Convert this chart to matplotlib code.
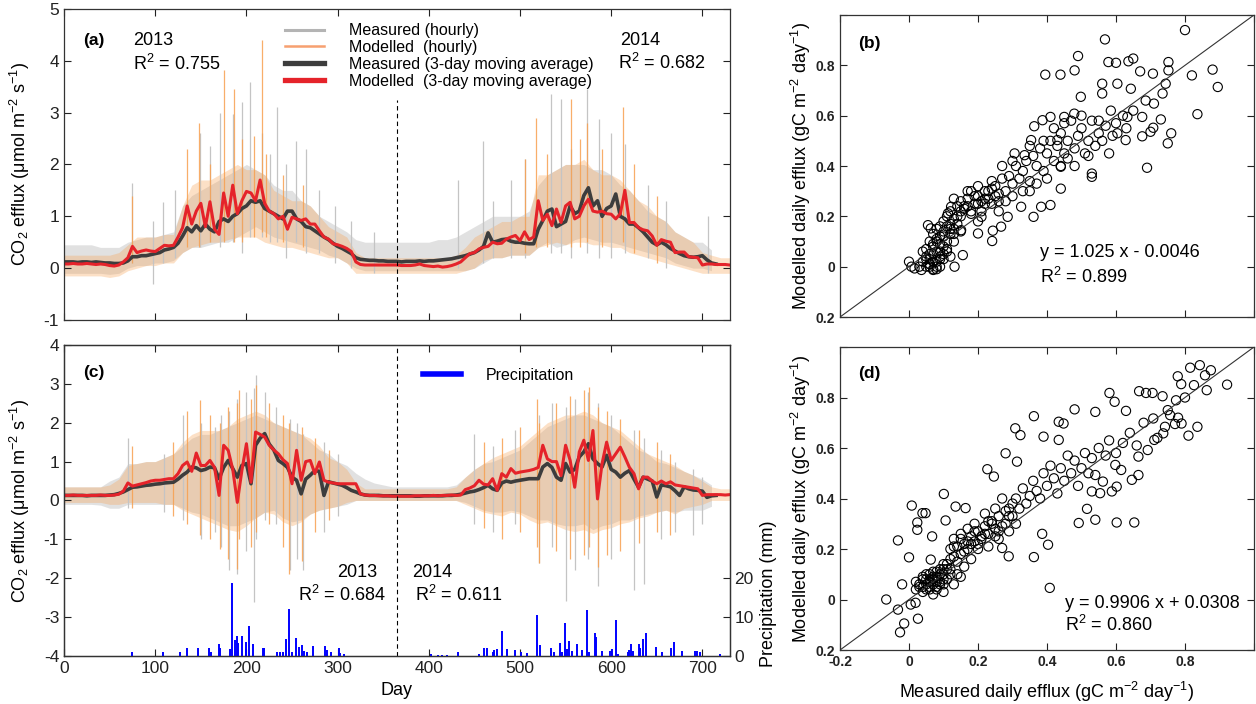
import numpy as np
import matplotlib
matplotlib.use("Agg")
import matplotlib.pyplot as plt
from matplotlib.lines import Line2D

plt.rcParams['font.family'] = ['Liberation Sans', 'DejaVu Sans']
plt.rcParams['mathtext.fontset'] = 'custom'
plt.rcParams['mathtext.rm'] = 'Liberation Sans'
plt.rcParams['mathtext.it'] = 'Liberation Sans:italic'
plt.rcParams['mathtext.bf'] = 'Liberation Sans:bold'
plt.rcParams['axes.unicode_minus'] = False

nan = np.nan

# ---------------- data ----------------
day5 = np.arange(0, 731, 5)     # 3-day moving averages, read every 5 days
day10 = np.arange(0, 731, 10)   # hourly envelope, read every 10 days

# panel (a) 3-day moving averages
ma_meas_a = [0.12,0.12,0.12,0.11,0.12,0.12,0.11,0.12,0.11,0.10,
             0.10,0.09,0.09,0.10,0.14,0.22,0.22,0.24,0.24,0.26,
             0.28,0.30,0.35,0.37,0.40,0.48,0.62,0.78,0.70,0.82,
             0.72,0.85,0.75,0.70,0.90,0.95,0.90,1.00,1.05,1.15,
             1.20,1.30,1.27,1.30,1.15,1.10,1.05,1.00,0.95,1.10,
             1.10,0.95,0.90,0.80,0.78,0.72,0.66,0.60,0.55,0.48,
             0.42,0.38,0.33,0.28,0.20,0.17,0.16,0.15,0.15,0.14,
             0.14,0.13,0.13,0.13,0.12,0.13,0.13,0.13,0.14,0.13,
             0.14,0.14,0.15,0.16,0.17,0.18,0.20,0.22,0.24,0.27,
             0.30,0.35,0.42,0.68,0.50,0.52,0.55,0.56,0.52,0.50,
             0.50,0.48,0.47,0.47,0.75,0.92,1.10,1.14,0.80,0.85,
             0.90,1.20,1.05,1.10,1.40,1.55,1.20,1.30,1.00,1.15,
             1.20,1.43,1.00,0.95,0.85,0.85,0.78,0.70,0.60,0.50,
             0.45,0.50,0.45,0.38,0.33,0.28,0.24,0.22,0.21,0.22,
             0.24,0.16,0.10,0.08,nan,nan,nan]
ma_mod_a = [0.08,0.08,0.09,0.08,0.08,0.09,0.08,0.07,0.08,0.07,
            0.05,0.04,0.06,0.12,0.20,0.42,0.30,0.33,0.35,0.33,
            0.32,0.38,0.44,0.43,0.44,0.60,0.78,1.20,0.85,1.10,
            1.25,0.80,1.28,0.75,0.65,1.45,1.00,1.60,1.05,1.30,
            1.48,1.45,1.30,1.70,1.25,1.10,1.05,0.95,1.00,0.75,
            0.98,0.95,0.92,0.95,0.85,0.85,0.72,0.60,0.56,0.47,
            0.45,0.42,0.38,0.32,0.12,0.07,0.06,0.06,0.06,0.06,
            0.06,0.06,0.06,0.06,0.05,0.05,0.05,0.06,0.08,0.05,
            0.04,0.03,0.04,0.02,0.03,0.05,0.08,0.12,0.20,0.28,
            0.30,0.37,0.40,0.42,0.50,0.47,0.48,0.56,0.60,0.63,
            0.53,0.70,0.55,0.60,1.30,0.92,1.04,0.82,1.14,0.88,
            1.20,1.27,0.95,1.00,1.20,1.33,1.10,1.08,1.10,1.05,
            1.04,0.95,1.05,1.50,0.88,0.88,0.78,0.74,0.72,0.62,
            0.44,0.55,0.52,0.50,0.30,0.31,0.31,0.22,0.21,0.20,
            0.06,0.08,0.08,0.07,0.07,0.07,0.06]

# panel (c) 3-day moving averages
ma_meas_c = [0.13,0.13,0.13,0.13,0.13,0.12,0.13,0.13,0.13,0.13,
             0.14,0.15,0.18,0.22,0.28,0.34,0.35,0.37,0.39,0.40,
             0.42,0.43,0.45,0.46,0.47,0.55,0.65,0.73,0.86,0.84,
             0.77,0.80,0.86,0.84,0.56,0.85,1.03,0.82,0.60,0.90,
             0.95,0.43,1.42,1.60,1.72,1.45,1.30,1.03,0.95,0.85,
             0.60,0.52,0.17,0.55,0.65,0.77,0.75,0.13,0.48,0.45,
             0.42,0.39,0.33,0.26,0.22,0.17,0.14,0.13,0.13,0.13,
             0.12,0.12,0.12,0.12,0.12,0.12,0.12,0.11,0.11,0.12,
             0.12,0.12,0.12,0.12,0.13,0.13,0.14,0.16,0.19,0.22,
             0.24,0.28,0.33,0.39,0.30,0.26,0.45,0.50,0.47,0.50,
             0.52,0.54,0.56,0.56,0.56,0.86,0.95,0.85,0.60,0.52,
             0.95,0.73,0.80,1.12,1.25,1.46,1.07,0.95,0.86,1.16,
             0.80,0.73,0.60,0.70,0.77,0.55,0.34,0.60,0.55,0.50,
             0.09,0.40,0.38,0.35,0.25,0.13,0.35,0.30,0.27,0.26,
             0.24,0.08,0.12,0.13,nan,nan,nan]
ma_mod_c = [0.13,0.13,0.14,0.13,0.13,0.13,0.13,0.13,0.14,0.13,
            0.13,0.14,0.16,0.24,0.45,0.37,0.40,0.43,0.46,0.50,
            0.52,0.52,0.54,0.56,0.56,0.69,0.90,0.99,0.75,1.22,
            0.90,0.90,1.03,0.85,0.13,1.42,1.29,0.80,-0.05,0.77,
            1.46,0.47,1.76,1.70,1.63,1.42,1.30,1.20,1.05,0.95,
            0.43,1.29,0.52,1.00,1.03,0.69,0.99,0.52,0.47,0.45,
            0.43,0.43,0.43,0.43,0.43,0.17,0.14,0.13,0.13,0.12,
            0.12,0.12,0.11,0.11,0.11,0.11,0.11,0.12,0.12,0.12,
            0.12,0.13,0.12,0.13,0.13,0.14,0.13,0.14,0.28,0.32,
            0.38,0.52,0.42,0.40,0.56,0.26,0.69,0.60,0.82,0.70,
            0.73,0.75,0.77,0.80,0.85,1.42,1.07,1.00,1.00,0.64,
            1.42,1.03,0.34,1.25,1.55,1.03,1.80,0.04,0.95,1.50,
            1.03,1.20,1.37,1.12,0.85,0.69,0.30,0.60,0.60,0.50,
            0.43,0.50,0.43,0.48,0.40,0.38,0.36,0.34,0.32,0.30,
            0.13,0.15,0.15,0.15,0.15,0.14,0.15]

# hourly envelopes (dense part of the hourly traces)
meas_hi_a = [0.45,0.45,0.45,0.45,0.40,0.40,0.40,0.50,0.55,0.60,
             0.60,0.65,0.70,1.20,1.40,1.50,1.60,1.70,1.80,1.90,
             2.00,1.90,1.80,1.60,1.50,1.50,1.30,1.20,1.00,0.90,
             0.80,0.70,0.55,0.50,0.50,0.50,0.50,0.50,0.50,0.50,
             0.50,0.55,0.55,0.60,0.70,0.80,0.90,1.00,1.00,1.00,
             1.00,1.10,1.60,1.80,1.90,2.00,2.00,2.00,1.90,1.90,
             1.80,1.60,1.50,1.30,1.10,1.00,0.90,0.70,0.60,0.50,
             0.50,0.35,nan,nan]
meas_lo_a = [-0.10,-0.10,-0.10,-0.10,-0.10,-0.12,-0.10,0.00,0.05,0.05,
             0.10,0.10,0.15,0.30,0.40,0.40,0.45,0.50,0.50,0.60,
             0.70,0.80,0.70,0.60,0.55,0.50,0.45,0.40,0.35,0.25,
             0.20,0.10,0.00,-0.05,-0.05,-0.05,-0.05,-0.05,-0.05,-0.05,
             -0.05,-0.05,-0.05,-0.05,-0.05,0.00,0.10,0.20,0.20,0.25,
             0.25,0.25,0.40,0.50,0.40,0.45,0.55,0.60,0.55,0.50,
             0.50,0.45,0.40,0.35,0.30,0.25,0.20,0.10,0.05,0.00,
             0.00,-0.05,nan,nan]
mod_hi_a = [0.25,0.25,0.25,0.25,0.25,0.25,0.30,0.45,0.60,0.60,
            0.60,0.65,0.65,1.20,1.60,1.70,1.70,1.80,1.90,2.00,
            1.90,1.90,1.80,1.50,1.40,1.30,1.30,1.20,1.00,0.80,
            0.70,0.60,0.30,0.20,0.20,0.20,0.20,0.20,0.20,0.20,
            0.20,0.20,0.20,0.25,0.40,0.60,0.70,0.80,0.90,0.90,
            1.00,1.00,1.80,1.80,1.90,2.00,2.00,2.10,1.90,1.80,
            1.80,1.70,1.50,1.30,1.20,1.00,0.90,0.70,0.60,0.50,
            0.30,0.25,0.20,0.20]
mod_lo_a = [-0.15,-0.15,-0.15,-0.15,-0.15,-0.18,-0.15,-0.05,0.00,0.05,
            0.05,0.10,0.10,0.30,0.40,0.45,0.50,0.50,0.55,0.60,
            0.60,0.60,0.50,0.45,0.40,0.40,0.35,0.30,0.25,0.20,
            0.20,0.10,-0.10,-0.10,-0.10,-0.10,-0.10,-0.10,-0.10,-0.10,
            -0.10,-0.10,-0.10,-0.10,-0.05,0.00,0.15,0.20,0.20,0.25,
            0.25,0.25,0.40,0.45,0.50,0.45,0.50,0.50,0.45,0.45,
            0.40,0.40,0.30,0.25,0.20,0.15,0.10,0.05,0.00,-0.05,
            -0.10,-0.10,-0.10,-0.10]

meas_hi_c = [0.35,0.35,0.35,0.35,0.35,0.50,0.60,0.95,0.95,1.00,
             1.00,1.10,1.20,1.40,1.60,1.70,1.70,1.80,1.90,2.00,
             2.10,2.20,2.10,2.00,1.90,1.80,1.70,1.50,1.30,1.20,
             1.00,0.90,0.70,0.55,0.45,0.40,0.35,0.35,0.35,0.35,
             0.35,0.35,0.35,0.40,0.60,0.80,0.95,1.00,1.10,1.20,
             1.30,1.50,1.70,1.90,2.00,2.10,2.20,2.20,2.10,2.00,
             1.90,1.70,1.50,1.30,1.20,1.00,0.95,0.85,0.75,0.65,
             0.55,0.40,nan,nan]
meas_lo_c = [-0.10,-0.10,-0.10,-0.10,-0.12,-0.20,-0.20,-0.10,-0.10,-0.10,
             -0.10,-0.10,-0.10,-0.20,-0.30,-0.35,-0.45,-0.55,-0.65,-0.65,
             -0.55,-0.45,-0.30,-0.25,-0.45,-0.55,-0.50,-0.35,-0.25,-0.20,
             -0.15,-0.10,0.00,0.00,0.00,0.00,0.00,0.00,0.00,0.00,
             0.00,0.00,0.00,0.00,-0.05,-0.15,-0.25,-0.30,-0.30,-0.25,
             -0.30,-0.40,-0.50,-0.50,-0.60,-0.65,-0.65,-0.60,-0.75,-0.65,
             -0.60,-0.50,-0.50,-0.40,-0.35,-0.30,-0.25,-0.30,-0.25,-0.25,
             -0.25,-0.15,nan,nan]
mod_hi_c = [0.35,0.35,0.35,0.35,0.35,0.40,0.55,0.90,0.95,1.00,
            1.00,1.10,1.20,1.50,1.70,1.80,1.80,1.80,1.90,2.10,
            2.20,2.30,2.20,2.00,1.90,1.80,1.70,1.60,1.40,1.10,
            1.00,0.80,0.45,0.30,0.30,0.30,0.30,0.30,0.30,0.30,
            0.30,0.30,0.30,0.35,0.60,0.80,0.95,1.10,1.20,1.30,
            1.40,1.60,1.80,2.00,2.10,2.20,2.20,2.30,2.20,2.00,
            1.90,1.80,1.60,1.40,1.20,1.10,1.00,0.90,0.75,0.65,
            0.50,0.35,0.30,0.30]
mod_lo_c = [-0.05,-0.05,-0.05,-0.05,-0.05,-0.10,-0.10,-0.05,-0.05,-0.05,
            -0.05,-0.10,-0.10,-0.25,-0.35,-0.45,-0.55,-0.65,-0.75,-0.80,
            -0.65,-0.45,-0.30,-0.35,-0.55,-0.65,-0.55,-0.35,-0.25,-0.20,
            -0.15,-0.05,0.00,0.00,0.00,0.00,0.00,0.00,0.00,0.00,
            0.00,0.00,0.00,0.00,-0.10,-0.20,-0.30,-0.35,-0.40,-0.30,
            -0.35,-0.50,-0.60,-0.55,-0.65,-0.75,-0.80,-0.75,-0.85,-0.75,
            -0.70,-0.60,-0.55,-0.45,-0.40,-0.30,-0.25,-0.35,-0.20,-0.15,
            -0.10,0.00,0.00,0.00]

# single hourly excursions: day, low, high
spk_meas_a_day = [74,98,109,122,149,160,171,185,195,204,217,226,234,243,254,265,280,297,315,340,
                  432,459,470,490,506,534,545,556,573,587,600,615,640,660,706]
spk_meas_a_lo = [0.1,-0.3,0.1,0.2,0.4,0.5,0.4,0.5,0.3,0.6,0.6,0.5,0.5,0.2,0.5,0.3,0.3,0.1,0.0,-0.1,
                 0.0,0.1,0.2,0.2,0.2,0.3,0.3,0.2,0.3,0.2,0.2,0.3,0.2,0.0,-0.1]
spk_meas_a_hi = [1.65,0.9,1.27,1.5,2.6,2.35,3.0,2.97,3.2,3.6,2.6,2.2,3.1,2.0,2.45,2.3,1.5,1.2,0.9,0.7,
                 1.7,2.45,1.3,1.7,2.1,3.35,3.26,2.3,3.45,2.87,2.6,2.4,1.6,1.3,1.0]
spk_mod_a_day = [74,135,148,160,175,186,195,208,217,222,240,262,506,518,530,556,566,573,590,613,625,650]
spk_mod_a_lo = [0.1,0.4,0.4,0.5,0.5,0.5,0.5,0.6,0.7,0.6,0.5,0.4,0.3,0.4,0.4,0.4,0.4,0.5,0.4,0.5,0.3,0.1]
spk_mod_a_hi = [1.4,2.3,2.8,2.0,3.83,3.45,2.5,2.55,4.4,2.2,1.8,1.6,2.1,2.9,2.2,3.26,2.5,2.8,2.3,3.1,2.0,1.4]

spk_meas_c_day = [70,110,130,150,165,172,181,190,200,208,210,220,232,248,256,262,285,300,
                  450,470,495,521,535,550,560,575,585,600,625,636,655,670,690,700]
spk_meas_c_lo = [-0.2,-0.3,-0.5,-1.0,-0.8,-1.2,-1.8,-1.9,-1.3,-2.62,-1.0,-0.5,-0.6,-1.8,-1.5,-1.8,-0.8,-0.4,
                 -0.6,-0.8,-0.6,-1.6,-1.2,-2.58,-1.8,-1.5,-2.2,-1.5,-2.3,-2.15,-1.0,-0.8,-0.9,-0.6]
spk_meas_c_hi = [1.6,1.2,2.2,2.0,1.9,2.2,2.3,2.6,2.8,2.9,3.22,2.8,2.4,2.1,2.0,1.7,1.5,1.2,
                 1.7,1.4,1.8,2.2,2.5,2.4,2.6,2.8,2.5,2.2,1.8,1.6,1.3,1.0,0.8,0.6]
spk_mod_c_day = [75,120,135,149,160,171,180,190,192,205,211,225,240,247,261,275,290,
                 460,480,500,519,521,540,555,570,576,585,595,610,630,650,665]
spk_mod_c_lo = [-0.2,-0.4,-0.6,-0.9,-1.0,-1.25,-1.5,-1.76,-1.0,-1.2,-0.8,-0.6,-1.2,-1.9,-1.55,-0.8,-0.5,
                -0.7,-1.0,-0.8,-1.2,-1.6,-1.3,-1.5,-1.4,-1.2,-1.7,-1.4,-1.3,-1.1,-0.8,-0.9]
spk_mod_c_hi = [1.4,1.5,2.3,2.58,2.2,2.0,2.4,2.5,2.84,2.6,2.96,2.5,2.2,2.0,1.9,1.6,1.3,
                1.5,1.6,1.9,2.62,2.0,2.5,2.7,2.83,2.92,2.4,2.3,2.1,1.8,1.5,1.2]

# daily precipitation (mm)
precip_day = [75,108,127,135,147,159,161,170,171,182,184,188,190,191,195,199,200,203,207,218,
              219,233,237,240,243,247,250,254,258,261,263,266,273,286,288,293,301,303,307,
              402,410,415,420,432,455,461,464,470,472,475,480,486,494,501,508,519,522,534,537,
              544,546,549,551,554,557,563,568,574,576,582,583,590,599,601,605,608,618,620,622,
              624,630,632,635,638,649,656,666,669,678,692,694,697,719]
precip_mm = [1.1,0.9,0.9,2.1,2.1,2.0,1.1,3.1,2.0,1.7,18.7,4.1,5.2,3.3,5.2,3.7,1.7,7.6,3.1,2.0,
             2.0,0.9,0.9,0.9,4.3,12.0,1.1,4.6,2.2,2.8,1.3,0.9,2.6,2.6,1.5,1.1,2.0,0.7,0.5,
             0.5,0.3,0.3,0.3,0.9,0.4,2.0,2.0,1.1,1.5,1.7,6.4,1.7,1.5,0.9,0.7,10.5,2.7,2.0,1.1,
             3.4,1.1,8.6,1.7,3.8,1.3,3.2,1.5,11.9,1.1,6.0,4.8,1.4,1.3,1.7,9.2,0.5,1.1,1.5,3.2,
             1.4,3.0,2.0,4.3,5.8,2.4,0.9,2.0,3.7,1.4,1.4,1.3,1.1,0.5]

# daily efflux scatter, panel (b)
b_meas = [0.80,0.568,0.49,0.395,0.439,0.48,0.578,0.60,0.636,0.65,0.67,0.707,0.752,0.752,0.82,0.88,0.895,
          0.836,0.76,0.75,0.69,0.53,0.53,0.73,0.708,0.676,0.70,0.676,0.686,0.71,0.735,0.744,0.633,0.628,
          0.604,0.585,0.56,0.56,0.604,0.643,0.498,0.479,0.45,0.43,0.44,0.44,0.41,0.383,0.361,0.363,0.387,
          0.41,0.354,0.335,0.306,0.325,0.267,0.243,0.241,0.286,0.21,0.20,0.156,0.132,0.151,0.122,0.113,
          0.055,0.063,0.0,0.007,0.016,0.036,0.07,
          0.04,0.05,0.06,0.07,0.05,0.08,0.09,0.06,0.07,0.08,0.09,0.10,0.10,0.11,0.12,0.12,0.13,0.14,0.15,
          0.15,0.16,0.17,0.18,0.18,0.19,0.20,0.21,0.22,0.23,0.24,0.25,0.26,0.27,0.28,0.29,0.30,0.31,0.32,
          0.33,0.34,0.35,0.36,0.37,0.38,0.39,0.40,0.41,0.42,0.43,0.44,0.45,0.46,0.47,0.48,0.49,0.50,0.51,
          0.52,0.53,0.54,0.55,0.56,0.57,0.58,0.59,0.60,0.62,0.63,0.65,0.48,0.44,0.37,0.33,0.28,0.26,0.20,
          0.15,0.13,0.11,0.09,0.08,0.06,0.03,0.10,0.12,0.04,0.14,0.22,0.30,0.35,0.40,0.46,0.52,0.55,0.50,
          0.45,0.42,0.39,0.35,0.30,0.27,0.24,0.20,0.17,0.13,
          0.05,0.06,0.07,0.08,0.09,0.10,0.11,0.06,0.07,0.08,0.09,0.10,0.05,0.06,0.07,0.08,0.09,0.11,0.12,
          0.13,0.10,0.09,0.08,0.07,0.12,0.14,0.16,0.13,0.11,0.15,0.17,0.19,0.21,0.23,0.25,0.18,0.20,0.22,
          0.24,0.26]
b_mod = [0.94,0.903,0.837,0.763,0.763,0.78,0.813,0.81,0.816,0.827,0.776,0.767,0.813,0.78,0.76,0.783,0.714,
         0.606,0.53,0.49,0.393,0.357,0.37,0.585,0.552,0.518,0.536,0.595,0.66,0.648,0.688,0.727,0.595,0.503,
         0.53,0.62,0.727,0.688,0.727,0.707,0.675,0.608,0.595,0.503,0.397,0.31,0.245,0.238,0.198,0.558,0.582,
         0.595,0.503,0.443,0.45,0.238,0.159,0.143,0.102,0.198,0.198,0.132,0.046,0.0,0.145,0.238,0.212,
         0.165,0.152,0.02,0.0,-0.007,-0.013,-0.013,
         0.02,0.04,0.03,0.05,0.07,0.06,0.04,0.10,0.13,0.15,0.12,0.08,0.18,0.20,0.15,0.22,0.19,0.24,0.20,
         0.26,0.23,0.27,0.22,0.30,0.25,0.28,0.22,0.30,0.27,0.25,0.32,0.29,0.35,0.30,0.36,0.33,0.40,0.35,
         0.38,0.42,0.34,0.44,0.40,0.47,0.38,0.45,0.50,0.42,0.48,0.53,0.45,0.50,0.58,0.47,0.52,0.55,0.45,
         0.50,0.58,0.48,0.53,0.50,0.56,0.45,0.52,0.57,0.60,0.55,0.62,0.40,0.40,0.33,0.30,0.26,0.22,0.18,
         0.14,0.10,0.06,0.00,-0.01,0.01,0.00,0.03,0.04,0.06,0.17,0.25,0.28,0.30,0.35,0.43,0.44,0.58,0.60,
         0.57,0.55,0.50,0.48,0.42,0.40,0.34,0.32,0.30,0.27,
         0.00,0.01,0.02,0.00,0.03,0.05,0.07,0.05,0.08,0.10,0.09,0.12,0.03,0.00,-0.01,0.02,0.06,0.10,0.13,
         0.15,0.14,0.16,0.11,0.09,0.17,0.20,0.24,0.13,0.16,0.22,0.24,0.28,0.26,0.30,0.28,0.21,0.25,0.27,
         0.31,0.26]

# daily efflux scatter, panel (d)
d_meas = [-0.066,-0.032,-0.026,-0.014,0.026,0.005,0.019,-0.032,0.0,-0.02,0.008,0.024,0.039,0.048,0.024,0.101,
          0.106,0.063,0.067,0.135,0.164,0.227,0.246,0.27,0.289,0.28,0.308,0.323,0.313,0.362,0.362,0.386,
          0.403,0.408,0.39,0.434,0.434,0.448,0.48,0.492,0.516,0.54,0.602,0.653,0.54,0.581,0.596,0.629,0.667,
          0.687,0.706,0.735,0.774,0.779,0.789,0.815,0.843,0.875,0.858,0.922,0.863,0.826,0.836,0.81,0.79,
          0.771,0.757,0.737,0.711,0.692,0.665,0.665,0.646,0.615,0.598,0.602,0.588,0.562,0.554,0.53,0.54,
          0.708,0.742,
          0.02,0.03,0.04,0.05,0.05,0.06,0.06,0.07,0.07,0.08,0.08,0.09,0.09,0.10,0.10,0.11,0.11,0.12,0.12,
          0.13,0.13,0.14,0.15,0.15,0.16,0.17,0.17,0.18,0.19,0.19,0.20,0.21,0.22,0.22,0.23,0.24,0.25,0.25,
          0.26,0.27,0.28,0.29,0.30,0.31,0.32,0.33,0.34,0.35,0.36,0.37,0.38,0.39,0.40,0.41,0.42,0.43,0.44,
          0.45,0.46,0.47,0.48,0.49,0.50,0.51,0.52,0.53,0.55,0.57,0.58,0.60,0.62,0.64,0.66,0.68,0.72,0.75,
          0.78,0.80,0.14,0.16,0.18,0.20,0.23,0.26,0.29,0.02,0.04,0.07,0.10,0.15,0.13,
          0.03,0.04,0.05,0.06,0.07,0.08,0.09,0.10,0.11,0.04,0.05,0.06,0.07,0.08,0.09,0.10,0.06,0.08,0.10,
          0.12,0.12,0.14,0.16,0.18,0.13,0.15,0.17,0.19,0.21,0.20,0.22,0.24,0.26,0.23,0.25,0.27,0.29,0.31,
          0.28,0.30]
d_mod = [0.0,-0.04,-0.13,-0.095,-0.076,-0.02,-0.013,0.234,0.167,0.06,0.372,0.305,0.342,0.342,0.276,0.418,
         0.313,0.158,0.25,0.368,0.362,0.516,0.487,0.204,0.171,0.579,0.678,0.651,0.546,0.726,0.168,0.26,
         0.217,0.046,0.645,0.632,0.704,0.697,0.753,0.303,0.359,0.316,0.305,0.305,0.743,0.818,0.783,0.747,0.825,
         0.818,0.818,0.805,0.789,0.884,0.853,0.918,0.928,0.908,0.888,0.851,0.829,0.849,0.684,0.649,0.697,
         0.695,0.73,0.658,0.632,0.592,0.566,0.493,0.474,0.513,0.533,0.447,0.428,0.467,0.421,0.428,0.493,
         0.717,0.684,
         0.07,0.05,0.08,0.06,0.10,0.04,0.08,0.06,0.11,0.05,0.09,0.07,0.12,0.06,0.10,0.08,0.14,0.12,0.20,
         0.17,0.24,0.21,0.18,0.26,0.22,0.20,0.28,0.25,0.23,0.30,0.27,0.24,0.29,0.34,0.26,0.31,0.36,0.28,
         0.33,0.40,0.30,0.36,0.33,0.40,0.36,0.44,0.38,0.41,0.47,0.43,0.40,0.50,0.45,0.53,0.48,0.42,0.52,
         0.47,0.57,0.50,0.55,0.45,0.52,0.58,0.50,0.56,0.60,0.57,0.63,0.58,0.62,0.66,0.61,0.70,0.64,0.75,
         0.72,0.80,0.10,0.13,0.16,0.20,0.21,0.24,0.27,0.04,0.03,0.02,0.03,0.09,0.06,
         0.06,0.09,0.04,0.07,0.09,0.04,0.10,0.08,0.12,0.05,0.08,0.05,0.08,0.11,0.06,0.12,0.10,0.07,0.14,
         0.10,0.16,0.15,0.19,0.22,0.21,0.24,0.23,0.27,0.25,0.22,0.26,0.30,0.27,0.31,0.25,0.29,0.33,0.30,
         0.35,0.38]

# ---------------- styling ----------------
c_gray_h = '#c4c4c4'
c_orng_h = '#f7a050'
c_gray_ma = '#3d3d3d'
c_red_ma = '#e5232a'
tick_fs = 12.5
lab_fs = 13

fig = plt.figure(figsize=(12.56, 7.04), dpi=100)
ax_a = fig.add_axes([0.051, 0.5455, 0.530, 0.4418])
ax_c = fig.add_axes([0.051, 0.0682, 0.530, 0.4418])
ax_b = fig.add_axes([0.6688, 0.5497, 0.3296, 0.429])
ax_d = fig.add_axes([0.6688, 0.0767, 0.3296, 0.4304])


def draw_series(ax, mhi, mlo, ohi, olo, sm, sml, smh, so, sol, soh, mam, mao):
    ax.fill_between(day10, np.array(mlo), np.array(mhi), color=c_gray_h, alpha=0.5, lw=0)
    ax.fill_between(day10, np.array(olo), np.array(ohi), color=c_orng_h, alpha=0.32, lw=0)
    ax.vlines(sm, sml, smh, color=c_gray_h, lw=0.9)
    ax.vlines(so, sol, soh, color=c_orng_h, lw=0.9, alpha=0.85)
    ax.plot(day5, mam, color=c_gray_ma, lw=2.6)
    ax.plot(day5, mao, color=c_red_ma, lw=2.2)


def style_ts(ax):
    ax.set_xlim(0, 730)
    ax.set_xticks(range(0, 701, 100))
    ax.tick_params(direction='in', top=True, right=True, length=5, width=0.8,
                   labelsize=tick_fs, colors='#222222')
    for s in ax.spines.values():
        s.set_color('#333333')
        s.set_linewidth(0.9)


# panel (a)
draw_series(ax_a, meas_hi_a, meas_lo_a, mod_hi_a, mod_lo_a,
            spk_meas_a_day, spk_meas_a_lo, spk_meas_a_hi,
            spk_mod_a_day, spk_mod_a_lo, spk_mod_a_hi, ma_meas_a, ma_mod_a)
style_ts(ax_a)
ax_a.set_ylim(-1, 5)
ax_a.set_yticks(range(-1, 6))
ax_a.set_xticklabels([])
ax_a.axvline(365, ymin=0, ymax=(3.25 + 1) / 6, color='k', ls=(0, (4, 3)), lw=0.8)
ax_a.set_ylabel(r'CO$_2$ efflux (μmol m$^{-2}$ s$^{-1}$)', fontsize=lab_fs)
ax_a.yaxis.set_label_coords(-0.048, 0.5)
ax_a.text(0.029, 0.897, '(a)', transform=ax_a.transAxes, fontsize=12.5,
          fontweight='bold', va='center')
ax_a.text(0.104, 0.897, '2013', transform=ax_a.transAxes, fontsize=lab_fs, va='center')
ax_a.text(0.104, 0.823, r'R$^2$ = 0.755', transform=ax_a.transAxes, fontsize=lab_fs, va='center')
ax_a.text(0.835, 0.90, '2014', transform=ax_a.transAxes, fontsize=lab_fs, va='center')
ax_a.text(0.832, 0.826, r'R$^2$ = 0.682', transform=ax_a.transAxes, fontsize=lab_fs, va='center')
handles = [Line2D([], [], color='#b4b4b4', lw=2.2),
           Line2D([], [], color='#f7a070', lw=1.8),
           Line2D([], [], color=c_gray_ma, lw=3.8),
           Line2D([], [], color=c_red_ma, lw=3.8)]
labels = ['Measured (hourly)', 'Modelled  (hourly)',
          'Measured (3-day moving average)', 'Modelled  (3-day moving average)']
ax_a.legend(handles, labels, loc='upper left', bbox_to_anchor=(0.323, 0.975),
            frameon=False, fontsize=11.5, handlelength=2.4, handletextpad=1.55,
            labelspacing=0.12, borderaxespad=0)

# panel (c)
draw_series(ax_c, meas_hi_c, meas_lo_c, mod_hi_c, mod_lo_c,
            spk_meas_c_day, spk_meas_c_lo, spk_meas_c_hi,
            spk_mod_c_day, spk_mod_c_lo, spk_mod_c_hi, ma_meas_c, ma_mod_c)
style_ts(ax_c)
ax_c.set_ylim(-4, 4)
ax_c.set_yticks(range(-4, 5))
ax_c.axvline(365, color='k', ls=(0, (4, 3)), lw=0.8)
ax_c.set_xlabel('Day', fontsize=lab_fs)
ax_c.xaxis.set_label_coords(0.5, -0.085)
ax_c.set_ylabel(r'CO$_2$ efflux (μmol m$^{-2}$ s$^{-1}$)', fontsize=lab_fs)
ax_c.yaxis.set_label_coords(-0.048, 0.5)
ax_c.text(0.029, 0.91, '(c)', transform=ax_c.transAxes, fontsize=12.5,
          fontweight='bold', va='center')
ax_c.text(0.471, 0.27, '2013', transform=ax_c.transAxes, fontsize=lab_fs, va='center', ha='right')
ax_c.text(0.483, 0.196, r'R$^2$ = 0.684', transform=ax_c.transAxes, fontsize=lab_fs,
          va='center', ha='right')
ax_c.text(0.523, 0.27, '2014', transform=ax_c.transAxes, fontsize=lab_fs, va='center')
ax_c.text(0.527, 0.196, r'R$^2$ = 0.611', transform=ax_c.transAxes, fontsize=lab_fs, va='center')

ax_p = ax_c.twinx()
ax_p.vlines(precip_day, 0, precip_mm, color='#0000ff', lw=1.4)
ax_p.set_ylim(0, 80)
ax_p.set_yticks([0, 10, 20])
ax_p.tick_params(direction='in', length=5, width=0.8, labelsize=tick_fs, colors='#222222')
ax_p.set_ylabel('Precipitation (mm)', fontsize=lab_fs)
ax_p.yaxis.set_label_coords(1.045, 0.2)
for s in ax_p.spines.values():
    s.set_color('#333333')
    s.set_linewidth(0.9)
ax_p.legend([Line2D([], [], color='#0000ff', lw=4)], ['Precipitation'], loc='upper left',
            bbox_to_anchor=(0.529, 0.947), frameon=False, fontsize=11.5,
            handlelength=2.4, handletextpad=1.55, borderaxespad=0)


# scatter panels
def style_sc(ax):
    ax.set_xlim(-0.2, 1.0)
    ax.set_ylim(-0.2, 1.0)
    ticks = [-0.2, 0, 0.2, 0.4, 0.6, 0.8, 1.0]
    ax.set_xticks(ticks)
    ax.set_yticks(ticks)
    ax.set_yticklabels(['0.2', '0', '0.2', '0.4', '0.6', '0.8', ''], fontweight='bold')
    ax.tick_params(direction='in', top=True, right=True, length=5, width=0.8,
                   labelsize=10, colors='#222222')
    ax.plot([-0.2, 1.0], [-0.2, 1.0], color='#333333', lw=0.8)
    ax.set_ylabel(r'Modelled daily efflux (gC m$^{-2}$ day$^{-1}$)', fontsize=lab_fs)
    ax.yaxis.set_label_coords(-0.066, 0.5)
    for s in ax.spines.values():
        s.set_color('#333333')
        s.set_linewidth(0.9)


ax_b.scatter(b_meas, b_mod, s=44, facecolors='none', edgecolors='k', linewidths=0.8)
style_sc(ax_b)
ax_b.set_xticklabels([])
ax_b.text(0.043, 0.907, '(b)', transform=ax_b.transAxes, fontsize=12.5, fontweight='bold', va='center')
ax_b.text(0.483, 0.212, 'y = 1.025 x - 0.0046', transform=ax_b.transAxes, fontsize=lab_fs, va='center')
ax_b.text(0.483, 0.132, r'R$^2$ = 0.899', transform=ax_b.transAxes, fontsize=lab_fs, va='center')

ax_d.scatter(d_meas, d_mod, s=44, facecolors='none', edgecolors='k', linewidths=0.8)
style_sc(ax_d)
ax_d.set_xticklabels(['-0.2', '0', '0.2', '0.4', '0.6', '0.8', ''], fontweight='bold')
ax_d.set_xlabel(r'Measured daily efflux (gC m$^{-2}$ day$^{-1}$)', fontsize=lab_fs)
ax_d.xaxis.set_label_coords(0.5, -0.1)
ax_d.text(0.043, 0.914, '(d)', transform=ax_d.transAxes, fontsize=12.5, fontweight='bold', va='center')
ax_d.text(0.543, 0.155, 'y = 0.9906 x + 0.0308', transform=ax_d.transAxes, fontsize=lab_fs, va='center')
ax_d.text(0.543, 0.083, r'R$^2$ = 0.860', transform=ax_d.transAxes, fontsize=lab_fs, va='center')

fig.savefig('out.png', dpi=100)
